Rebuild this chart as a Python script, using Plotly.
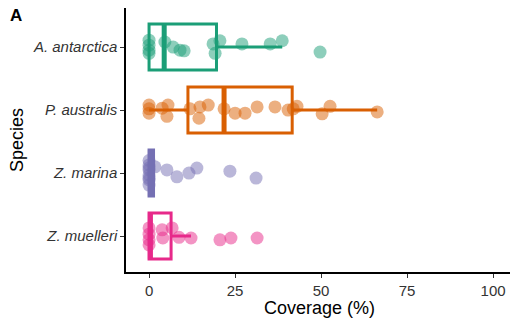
import plotly.graph_objects as go

species = ["A. antarctica", "P. australis", "Z. marina", "Z. muelleri"]
colors = ["#1B9E77", "#D95F02", "#7570B3", "#E7298A"]

# raw coverage values (%), with their vertical jitter (category units)
antarctica_vals = [0, 0, 0, 0, 4.6, 7, 9, 10.2, 18.6, 19.2, 20.6, 27, 35.2, 38.7, 49.7]
antarctica_jit = [-0.11, -0.03, 0.05, 0.1, -0.08, 0, 0.05, 0.06, -0.05, 0.1, -0.1, -0.05, -0.05, -0.1, 0.08]

australis_vals = [0, 0, 0, 3.8, 5.5, 5.2, 11.9, 14.8, 17.2, 14.5, 21.8, 25, 27.9, 31.4, 36.6,
                  40.4, 43, 41.9, 50.3, 52.6, 66.3]
australis_jit = [-0.08, 0.05, -0.02, -0.03, -0.08, 0.1, -0.02, -0.05, -0.08, 0.13, -0.02, 0.05,
                 0.05, -0.05, -0.05, 0, -0.06, -0.02, 0.06, -0.06, 0.03]

marina_vals = [0, 0, 0, 0, 0, 0, 0, 0, 1.7, 5.2, 8.1, 11.6, 13.9, 23.5, 31.1]
marina_jit = [-0.2, -0.13, -0.05, 0.03, 0.11, 0.19, -0.08, 0.08, -0.1, -0.05, 0.06, 0, -0.08, -0.03, 0.08]

muelleri_vals = [0, 0, 0, 0, 3.8, 4, 6.7, 8.7, 12.2, 20.6, 23.8, 31.4]
muelleri_jit = [-0.13, -0.03, 0.06, 0.14, -0.1, 0.03, -0.13, 0.02, 0.03, 0.06, 0.03, 0.03]

values = [antarctica_vals, australis_vals, marina_vals, muelleri_vals]
jitters = [antarctica_jit, australis_jit, marina_jit, muelleri_jit]

# box statistics
q1 = [0, 11.3, 0, 0]
median = [4.4, 21.8, 0.4, 0.4]
q3 = [19.6, 41.6, 1.3, 6.4]
lower = [0, 0, 0, 0]
upper = [38.7, 66.3, 1.3, 12.2]

x_ticks = [0, 25, 50, 75, 100]

box_w = 0.73

fig = go.Figure()

for i, sp in enumerate(species):
    fig.add_trace(go.Scatter(
        x=values[i], y=[i + j for j in jitters[i]], mode="markers",
        marker=dict(color=colors[i], size=13, opacity=0.5, line=dict(width=0)),
        showlegend=False, hoverinfo="x"))

for i, sp in enumerate(species):
    fill = colors[i] if i == 2 else "rgba(0,0,0,0)"
    fig.add_trace(go.Box(
        y=[i], q1=[q1[i]], median=[median[i]], q3=[q3[i]],
        lowerfence=[lower[i]], upperfence=[upper[i]],
        orientation="h", width=box_w, whiskerwidth=0,
        line=dict(color=colors[i], width=3), fillcolor=fill,
        boxpoints=False, showlegend=False))
    # thicker median line
    fig.add_trace(go.Scatter(
        x=[median[i], median[i]], y=[i - box_w / 2, i + box_w / 2], mode="lines",
        line=dict(color=colors[i], width=5), showlegend=False, hoverinfo="skip"))

PW, PH = 384, 264
fig.update_layout(
    width=510, height=320,
    margin=dict(l=126, r=0, t=8, b=48, autoexpand=False),
    paper_bgcolor="white", plot_bgcolor="white",
    font=dict(family="Liberation Sans, Arial, sans-serif", color="black"),
    showlegend=False,
    xaxis=dict(range=[-6.7, 104.9], tickvals=x_ticks, ticktext=[str(t) for t in x_ticks],
               showgrid=False, zeroline=False, showline=True, linecolor="black", linewidth=1.5,
               ticks="outside", ticklen=4, tickcolor="#333", tickwidth=1.2,
               tickfont=dict(size=15, color="#333"), automargin=False),
    yaxis=dict(range=[3.57, -0.62], tickvals=list(range(len(species))),
               ticktext=[f"<i>{s}</i>" for s in species],
               showgrid=False, zeroline=False, showline=True, linecolor="black", linewidth=1.5,
               ticks="outside", ticklen=4, tickcolor="#333", tickwidth=1.2,
               tickfont=dict(size=15, color="#333"), automargin=False),
)
fig.add_annotation(text="<b>A</b>", xref="paper", yref="paper",
                   x=-118 / PW, y=1 + 4 / PH, xanchor="left", yanchor="top",
                   showarrow=False, font=dict(size=17, color="black"))
fig.add_annotation(text="Species", xref="paper", yref="paper",
                   x=-109 / PW, y=(272 - 140) / PH, xanchor="center", yanchor="middle",
                   textangle=-90, showarrow=False, font=dict(size=18, color="black"))
fig.add_annotation(text="Coverage (%)", xref="paper", yref="paper",
                   x=(319 - 126) / PW, y=-(308 - 272) / PH, xanchor="center", yanchor="middle",
                   showarrow=False, font=dict(size=18, color="black"))

fig.write_html("out.html", config={"displayModeBar": False},
               post_script="document.body.style.margin='0';")
